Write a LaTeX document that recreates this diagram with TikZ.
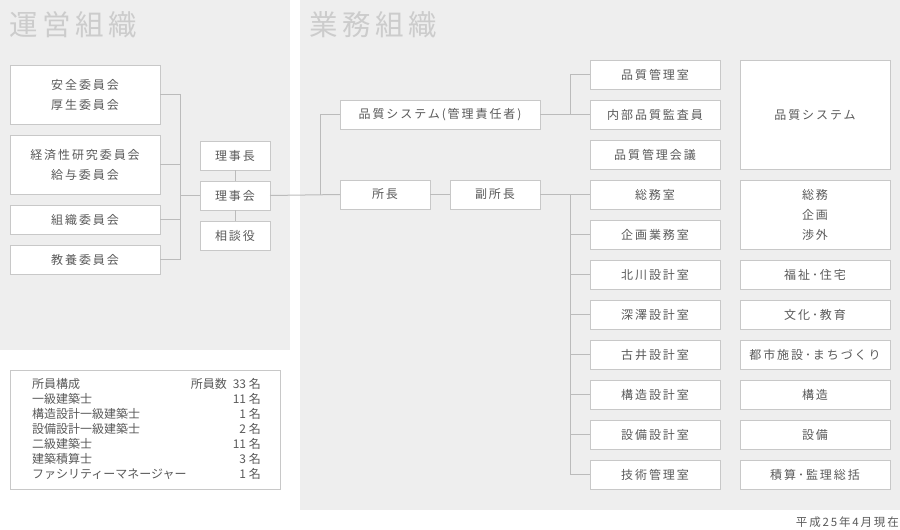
\documentclass[tikz,border=0pt]{standalone}
\usepackage{fontspec}
\usepackage{xcolor}
\usetikzlibrary{positioning,calc}

\newfontfamily\boxfont[LetterSpace=16]{Noto Sans CJK JP}
\newfontfamily\plainfont{Noto Sans CJK JP}

\definecolor{panelgray}{HTML}{EEEEEE}
\definecolor{edgegray}{HTML}{C8C8C8}
\definecolor{wiregray}{HTML}{BBBBBB}
\definecolor{textgray}{HTML}{5A5A5A}
\definecolor{titlegray}{HTML}{CCCCCC}

\begin{document}
\begin{tikzpicture}[x=1pt, y=-1pt, node distance=11pt,
    font=\boxfont\fontsize{12pt}{20pt}\selectfont, text=textgray]
    \tikzset{
      bx/.style={draw=edgegray, line width=1pt, fill=white, align=center,
                 inner sep=0pt, outer sep=0pt, minimum height=29pt},
      wide/.style={bx, minimum width=150pt},
      mid/.style={bx, minimum width=130pt},
      ln/.style={draw=wiregray, line width=1pt},
      ttl/.style={font=\boxfont\fontsize{28.5pt}{30pt}\selectfont, text=titlegray,
                  inner sep=0pt, anchor=west},
      row/.style={font=\plainfont\fontsize{12pt}{15pt}\selectfont, inner sep=0pt, anchor=west},
      cnt/.style={row, anchor=east},
    }
    \useasboundingbox (0,0) rectangle (900,530);
    \fill[panelgray] (0,0) rectangle (290,350);
    \fill[panelgray] (300,0) rectangle (900,510);

    \node[ttl] (t1) at (9,25) {運営組織};
    \node[ttl] (t2) at (309,25) {業務組織};

    % committees
    \node[wide, minimum height=59pt, anchor=north] (c1) at (85,65) {安全委員会\\厚生委員会};
    \node[wide, minimum height=59pt, below=of c1] (c2) {経済性研究委員会\\給与委員会};
    \node[wide, below=of c2] (c3) {組織委員会};
    \node[wide, below=of c3] (c4) {教養委員会};

    % board
    \node[bx, minimum width=70pt, anchor=north] (rc) at (235,141) {理事長};
    \node[bx, minimum width=70pt, below=of rc] (rk) {理事会};
    \node[bx, minimum width=70pt, below=of rk] (sd) {相談役};

    % management
    \node[bx, minimum width=200pt, anchor=north] (qs) at (440,100) {品質システム(管理責任者)};
    \node[bx, minimum width=90pt, anchor=north] (sc) at (385,180) {所長};
    \node[bx, minimum width=90pt, anchor=north] (fs) at (495,180) {副所長};

    % sections
    \node[mid, anchor=north] (m1) at (655,60) {品質管理室};
    \node[mid, below=of m1] (m2) {内部品質監査員};
    \node[mid, below=of m2] (m3) {品質管理会議};
    \node[mid, below=of m3] (m4) {総務室};
    \node[mid, below=of m4] (m5) {企画業務室};
    \node[mid, below=of m5] (m6) {北川設計室};
    \node[mid, below=of m6] (m7) {深澤設計室};
    \node[mid, below=of m7] (m8) {古井設計室};
    \node[mid, below=of m8] (m9) {構造設計室};
    \node[mid, below=of m9] (m10) {設備設計室};
    \node[mid, below=of m10] (m11) {技術管理室};

    % fields
    \node[wide, minimum height=109pt, anchor=north] (f1) at (815,60) {品質システム};
    \node[wide, minimum height=69pt, below=of f1] (f2) {総務\\企画\\渉外};
    \node[wide, below=of f2] (f3) {福祉･住宅};
    \node[wide, below=of f3] (f4) {文化･教育};
    \node[wide, below=of f4] (f5) {都市施設･まちづくり};
    \node[wide, below=of f5] (f6) {構造};
    \node[wide, below=of f6] (f7) {設備};
    \node[wide, below=of f7] (f8) {積算･監理総括};

    % connectors
    \coordinate (lbus) at ($(rk.west)+(-20pt,0)$);
    \coordinate (qbus) at ($(sc.west)+(-20pt,0)$);
    \coordinate (rbus) at ($(m4.west)+(-20pt,0)$);
    \draw[ln] (c1.east) -- (lbus |- c1.east) -- (lbus |- c4.east) -- (c4.east);
    \draw[ln] (c2.east) -- (lbus |- c2.east);
    \draw[ln] (c3.east) -- (lbus |- c3.east);
    \draw[ln] (rk.west) -- (lbus);
    \draw[ln] (rc) -- (rk);
    \draw[ln] (rk) -- (sd);
    \draw[ln] (rk.east) -- (sc.west);
    \draw[ln] (qs.west) -| (qbus);
    \draw[ln] (sc.east) -- (fs.west);
    \draw[ln] (qs.east) -- (m2.west);
    \draw[ln] (m1.west) -- (rbus |- m1.west) -- (rbus |- m2.west);
    \draw[ln] (fs.east) -- (m4.west);
    \draw[ln] (rbus) -- (rbus |- m11.west) -- (m11.west);
    \draw[ln] (m5.west) -- (rbus |- m5.west);
    \draw[ln] (m6.west) -- (rbus |- m6.west);
    \draw[ln] (m7.west) -- (rbus |- m7.west);
    \draw[ln] (m8.west) -- (rbus |- m8.west);
    \draw[ln] (m9.west) -- (rbus |- m9.west);
    \draw[ln] (m10.west) -- (rbus |- m10.west);

    % staff table
    \node[bx, minimum width=270pt, minimum height=119pt, anchor=north west] (st) at (10,370) {};
    \node[row] (r1) at (32,384) {所員構成};
    \node[row] (r2) at (32,399) {一級建築士};
    \node[row] (r3) at (32,414) {構造設計一級建築士};
    \node[row] (r4) at (32,429) {設備設計一級建築士};
    \node[row] (r5) at (32,444) {二級建築士};
    \node[row] (r6) at (32,459) {建築積算士};
    \node[row] (r7) at (32,474) {ファシリティーマネージャー};
    \node[cnt] (n1) at (261,384) {所員数\enspace 33 名};
    \node[cnt] (n2) at (261,399) {11 名};
    \node[cnt] (n3) at (261,414) {1 名};
    \node[cnt] (n4) at (261,429) {2 名};
    \node[cnt] (n5) at (261,444) {11 名};
    \node[cnt] (n6) at (261,459) {3 名};
    \node[cnt] (n7) at (261,474) {1 名};

    \node[cnt, font=\boxfont\fontsize{11.5pt}{14pt}\selectfont] (dt) at (899,522) {平成25年4月現在};
\end{tikzpicture}
\end{document}
